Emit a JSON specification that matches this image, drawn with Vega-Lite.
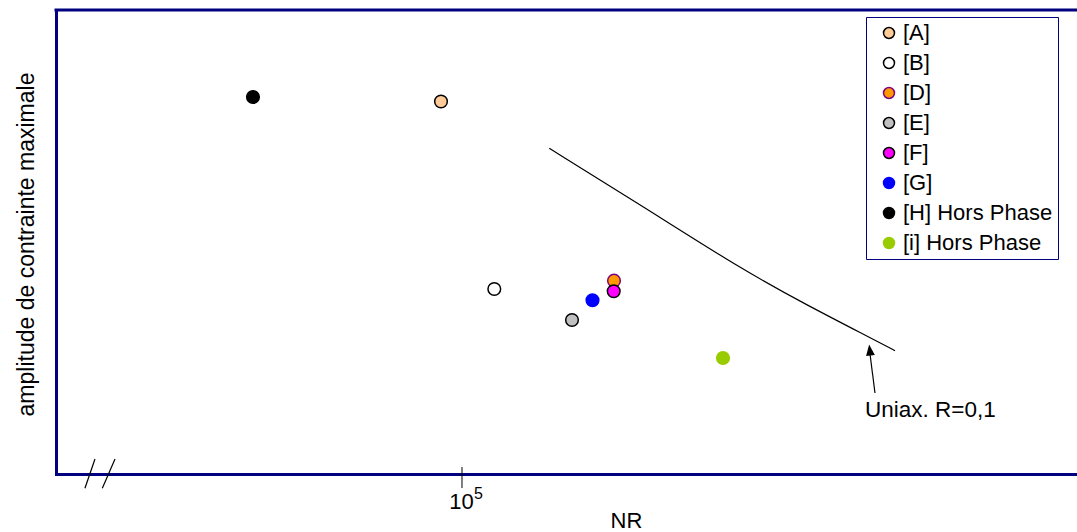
{
  "$schema": "https://vega.github.io/schema/vega-lite/v6.json",
  "width": 1021,
  "height": 464,
  "autosize": {"type": "none"},
  "padding": {"left": 56, "top": 10, "right": 0, "bottom": 58},
  "background": "white",
  "config": {"view": {"stroke": null}, "font": "Liberation Sans", "axis": {"grid": false}},
  "datasets": {
    "points": [
      {"serie": "[H] Hors Phase", "nr": 50280, "amp": 81.25},
      {"serie": "[A]", "nr": 93325, "amp": 80.28},
      {"serie": "[B]", "nr": 111210, "amp": 39.87},
      {"serie": "[E]", "nr": 143600, "amp": 33.19},
      {"serie": "[G]", "nr": 153610, "amp": 37.44},
      {"serie": "[D]", "nr": 164870, "amp": 41.66},
      {"serie": "[F]", "nr": 164710, "amp": 39.38},
      {"serie": "[i] Hors Phase", "nr": 235970, "amp": 25.0}
    ],
    "courbe": [
      {"nr": 133260, "amp": 70.19},
      {"nr": 182330, "amp": 57.44},
      {"nr": 249540, "amp": 44.33},
      {"nr": 310760, "amp": 36.42},
      {"nr": 386870, "amp": 29.03},
      {"nr": 415510, "amp": 26.57}
    ],
    "fleche": [{"nr": 389050, "amp": 17.46, "nr2": 382700, "amp2": 25.86}],
    "pointe": [{"nr": 382450, "amp": 26.72}],
    "etiquette": [{"nr": 376460, "amp": 12.22, "label": "Uniax. R=0,1"}],
    "exposant": [{"nr": 100000, "amp": -5.39, "label": "5"}],
    "coupure": [
      {"nr": 28930, "amp": -3.08, "nr2": 29900, "amp2": 3.23},
      {"nr": 30630, "amp": -3.08, "nr2": 31940, "amp2": 3.23}
    ],
    "graduation": [{"nr": 100000, "amp": 1.51, "amp2": -3.02}],
    "cadre": [{"nr": 26302.68, "nr2": 756090, "amp": 100}]
  },
  "encoding": {
    "x": {
      "field": "nr", "type": "quantitative",
      "scale": {"type": "log", "domain": [26302.68, 756090], "nice": false},
      "axis": {
        "values": [100000], "labelExpr": "'10'", "ticks": false, "tickSize": 0,
        "domain": true, "domainColor": "#000080", "domainWidth": 3, "domainCap": "square",
        "labelFontSize": 22, "labelPadding": 17, "labelColor": "black", "labelOffset": -1,
        "title": "NR", "titleFontSize": 22, "titleFontWeight": "normal", "titleColor": "black",
        "titleX": 570, "titleY": 53, "titleBaseline": "alphabetic", "titleAlign": "center"
      }
    },
    "y": {
      "field": "amp", "type": "quantitative",
      "scale": {"domain": [0, 100], "nice": false, "zero": false},
      "axis": {
        "values": [], "ticks": false, "labels": false,
        "domain": true, "domainColor": "#000080", "domainWidth": 3, "domainCap": "square",
        "title": "amplitude de contrainte maximale", "titleFontSize": 23, "titleFontWeight": "normal",
        "titleColor": "black", "titleX": -23, "titleY": 234, "titleAngle": 270,
        "titleBaseline": "alphabetic", "titleAlign": "center"
      }
    }
  },
  "layer": [
    {
      "data": {"name": "cadre"},
      "mark": {"type": "rule", "color": "#000080", "strokeWidth": 3, "strokeCap": "square"},
      "encoding": {"x2": {"field": "nr2"}}
    },
    {
      "data": {"name": "courbe"},
      "mark": {"type": "line", "color": "black", "strokeWidth": 1.2, "interpolate": "basis"},
      "encoding": {}
    },
    {
      "data": {"name": "fleche"},
      "mark": {"type": "rule", "color": "black", "strokeWidth": 1.2},
      "encoding": {"x2": {"field": "nr2"}, "y2": {"field": "amp2"}}
    },
    {
      "data": {"name": "pointe"},
      "mark": {"type": "point", "shape": "M0,-1L0.8,1L-0.8,1Z", "size": 121, "filled": true, "color": "black", "opacity": 1, "angle": -7},
      "encoding": {}
    },
    {
      "data": {"name": "etiquette"},
      "mark": {"type": "text", "align": "left", "baseline": "alphabetic", "fontSize": 22.5, "color": "black"},
      "encoding": {"text": {"field": "label"}}
    },
    {
      "data": {"name": "exposant"},
      "mark": {"type": "text", "align": "left", "baseline": "alphabetic", "fontSize": 16, "color": "black", "dx": 12},
      "encoding": {"text": {"field": "label"}}
    },
    {
      "data": {"name": "coupure"},
      "mark": {"type": "rule", "color": "black", "strokeWidth": 1.2},
      "encoding": {"x2": {"field": "nr2"}, "y2": {"field": "amp2"}}
    },
    {
      "data": {"name": "graduation"},
      "mark": {"type": "rule", "color": "black", "strokeWidth": 1},
      "encoding": {"y2": {"field": "amp2"}}
    },
    {
      "data": {"name": "points"},
      "mark": {"type": "point", "shape": "circle", "filled": true, "size": 160, "strokeWidth": 1.5, "opacity": 1},
      "encoding": {
        "fill": {
          "field": "serie", "type": "nominal",
          "scale": {
            "domain": ["[A]", "[B]", "[D]", "[E]", "[F]", "[G]", "[H] Hors Phase", "[i] Hors Phase"],
            "range": ["#FFCC99", "#FFFFFF", "#FF9900", "#C0C0C0", "#FF00FF", "#0000FF", "#000000", "#99CC00"]
          },
          "legend": {
            "title": null, "orient": "none", "legendX": 810, "legendY": 7,
            "strokeColor": "#000080", "fillColor": "white", "padding": 5,
            "labelFontSize": 22, "labelColor": "black", "labelOffset": 3,
            "symbolSize": 120, "symbolStrokeWidth": 1.5, "symbolType": "circle", "rowPadding": 8,
            "symbolOffset": 7
          }
        },
        "stroke": {
          "field": "serie", "type": "nominal",
          "scale": {
            "domain": ["[A]", "[B]", "[D]", "[E]", "[F]", "[G]", "[H] Hors Phase", "[i] Hors Phase"],
            "range": ["#000000", "#000000", "#800080", "#000000", "#000000", "#0000FF", "#000000", "#99CC00"]
          },
          "legend": {
            "title": null, "orient": "none", "legendX": 810, "legendY": 7,
            "strokeColor": "#000080", "fillColor": "white", "padding": 5,
            "labelFontSize": 22, "labelColor": "black", "labelOffset": 3,
            "symbolSize": 120, "symbolStrokeWidth": 1.5, "symbolType": "circle", "rowPadding": 8,
            "symbolOffset": 7
          }
        }
      }
    }
  ]
}
